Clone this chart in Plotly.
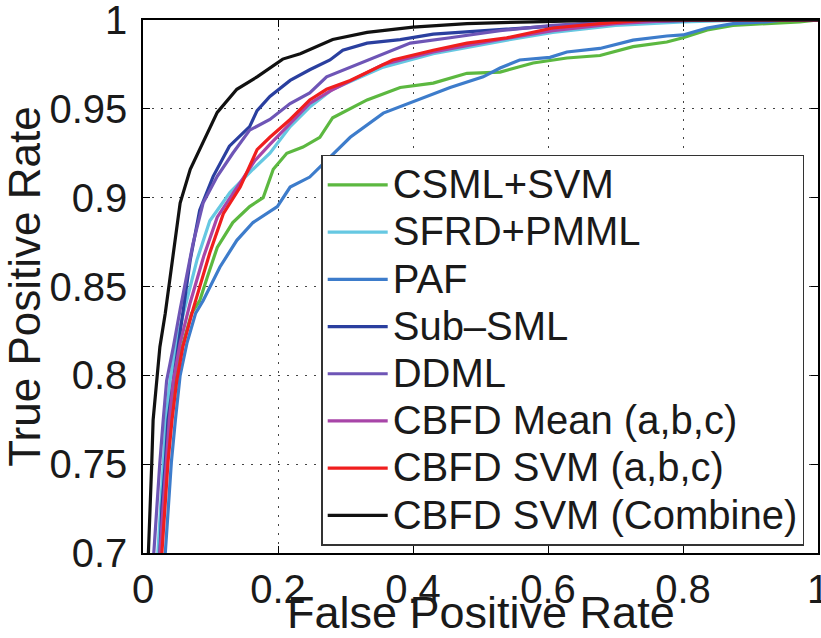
import plotly.graph_objects as go

# ---------------- data ----------------
names = ["CSML+SVM", "SFRD+PMML", "PAF", "Sub\u2013SML", "DDML",
         "CBFD Mean (a,b,c)", "CBFD SVM (a,b,c)", "CBFD SVM (Combine)"]

csml_x = [0.025, 0.030, 0.033, 0.040, 0.048, 0.058, 0.072, 0.084, 0.095, 0.110, 0.133, 0.158, 0.178,
          0.193, 0.213, 0.237, 0.262, 0.281, 0.332, 0.381, 0.430, 0.480, 0.529, 0.578, 0.628, 0.677,
          0.726, 0.776, 0.800, 0.836, 0.874, 0.924, 0.973, 1.0]
csml_y = [0.700, 0.726, 0.751, 0.775, 0.797, 0.816, 0.835, 0.842, 0.855, 0.872, 0.886, 0.895, 0.900,
          0.916, 0.925, 0.9285, 0.934, 0.945, 0.955, 0.962, 0.9645, 0.970, 0.9707, 0.9758, 0.9786, 0.980,
          0.985, 0.9876, 0.990, 0.9944, 0.997, 0.998, 0.999, 1.0]

sfrd_x = [0.022, 0.026, 0.030, 0.034, 0.040, 0.050, 0.070, 0.080, 0.099, 0.129, 0.163, 0.188, 0.218,
          0.247, 0.281, 0.356, 0.430, 0.529, 0.607, 0.700, 0.800, 0.900, 1.0]
sfrd_y = [0.700, 0.726, 0.751, 0.775, 0.797, 0.820, 0.850, 0.865, 0.887, 0.903, 0.916, 0.925, 0.940,
          0.951, 0.961, 0.9735, 0.981, 0.988, 0.993, 0.997, 0.999, 1.0, 1.0]

paf_x = [0.033, 0.037, 0.042, 0.048, 0.055, 0.065, 0.078, 0.089, 0.114, 0.139, 0.163, 0.199, 0.218,
         0.247, 0.267, 0.307, 0.356, 0.406, 0.455, 0.504, 0.529, 0.558, 0.603, 0.628, 0.677, 0.726,
         0.776, 0.800, 0.836, 0.874, 0.924, 0.950, 1.0]
paf_y = [0.700, 0.726, 0.751, 0.775, 0.800, 0.818, 0.835, 0.842, 0.861, 0.876, 0.886, 0.895, 0.906,
         0.9116, 0.919, 0.934, 0.9476, 0.955, 0.962, 0.968, 0.973, 0.9775, 0.979, 0.982, 0.984, 0.9887,
         0.991, 0.9916, 0.9955, 0.998, 0.999, 1.0, 1.0]

subsml_x = [0.025, 0.028, 0.033, 0.037, 0.045, 0.052, 0.059, 0.070, 0.084, 0.104, 0.128, 0.158, 0.169,
            0.188, 0.218, 0.247, 0.277, 0.296, 0.332, 0.381, 0.430, 0.504, 0.578, 0.700, 0.850, 1.0]
subsml_y = [0.700, 0.726, 0.751, 0.775, 0.797, 0.816, 0.837, 0.865, 0.893, 0.912, 0.929, 0.940, 0.949,
            0.957, 0.966, 0.972, 0.9775, 0.983, 0.987, 0.989, 0.992, 0.994, 0.996, 0.999, 1.0, 1.0]

ddml_x = [0.016, 0.020, 0.025, 0.030, 0.035, 0.045, 0.055, 0.074, 0.089, 0.110, 0.133, 0.158, 0.188,
          0.218, 0.247, 0.272, 0.307, 0.356, 0.396, 0.455, 0.529, 0.607, 0.700, 0.850, 1.0]
ddml_y = [0.700, 0.726, 0.751, 0.775, 0.797, 0.816, 0.837, 0.874, 0.897, 0.912, 0.925, 0.938, 0.944,
          0.953, 0.959, 0.968, 0.9735, 0.981, 0.987, 0.990, 0.994, 0.997, 0.999, 1.0, 1.0]

mean_x = [0.025, 0.030, 0.034, 0.039, 0.045, 0.055, 0.070, 0.090, 0.110, 0.138, 0.166, 0.188, 0.218,
          0.247, 0.277, 0.356, 0.430, 0.529, 0.607, 0.700, 0.800, 1.0]
mean_y = [0.700, 0.726, 0.751, 0.775, 0.797, 0.818, 0.841, 0.867, 0.889, 0.905, 0.921, 0.930, 0.942,
          0.953, 0.960, 0.975, 0.982, 0.989, 0.994, 0.998, 1.0, 1.0]

svm_x = [0.028, 0.033, 0.037, 0.043, 0.050, 0.059, 0.074, 0.099, 0.119, 0.144, 0.169, 0.188, 0.218,
         0.247, 0.272, 0.307, 0.370, 0.430, 0.480, 0.539, 0.607, 0.677, 0.750, 1.0]
svm_y = [0.700, 0.726, 0.751, 0.775, 0.797, 0.816, 0.837, 0.869, 0.891, 0.906, 0.927, 0.934, 0.944,
         0.955, 0.961, 0.966, 0.9775, 0.983, 0.987, 0.990, 0.9955, 0.998, 1.0, 1.0]

comb_x = [0.008, 0.010, 0.013, 0.015, 0.020, 0.025, 0.033, 0.040, 0.055, 0.070, 0.089, 0.110, 0.139,
          0.169, 0.207, 0.233, 0.281, 0.332, 0.400, 0.480, 0.578, 0.700, 1.0]
comb_y = [0.700, 0.726, 0.751, 0.775, 0.797, 0.816, 0.835, 0.854, 0.897, 0.916, 0.931, 0.948, 0.961,
          0.968, 0.978, 0.981, 0.989, 0.993, 0.996, 0.998, 0.999, 1.0, 1.0]

x_ticks = [0, 0.2, 0.4, 0.6, 0.8, 1]
x_tick_labels = ["0", "0.2", "0.4", "0.6", "0.8", "1"]
y_ticks = [0.7, 0.75, 0.8, 0.85, 0.9, 0.95, 1]
y_tick_labels = ["0.7", "0.75", "0.8", "0.85", "0.9", "0.95", "1"]
x_title = "False Positive Rate"
y_title = "True Positive Rate"

# ---------------- styling ----------------
colors = ["#5cb840", "#66c8e2", "#3d7ccb", "#2a3f9f", "#6e55b6", "#a845a8", "#f01e1e", "#111111"]
series = [(csml_x, csml_y), (sfrd_x, sfrd_y), (paf_x, paf_y), (subsml_x, subsml_y),
          (ddml_x, ddml_y), (mean_x, mean_y), (svm_x, svm_y), (comb_x, comb_y)]

FONT = "Liberation Sans, Arial, Helvetica, sans-serif"
TXT = "#1a1a1a"

fig = go.Figure()
for name, (xs, ys), c in zip(names, series, colors):
    fig.add_trace(go.Scatter(
        x=xs, y=ys, mode="lines", name="<span style='font-size:40px'>" + name + "</span>",
        line=dict(color=c, width=3.2), hoverinfo="skip"))

axis_common = dict(
    showline=True, linecolor="black", linewidth=1.5, mirror="ticks",
    ticks="inside", ticklen=7, tickwidth=1.2, tickcolor="black",
    showgrid=True, gridcolor="#444444", gridwidth=1, griddash="2px,7px",
    zeroline=False, tickfont=dict(size=40, color=TXT, family=FONT),
    ticklabeloverflow="allow", automargin=False,
)

fig.update_layout(
    width=821, height=638,
    margin=dict(l=143, r=3, t=20, b=85, autoexpand=False),
    paper_bgcolor="white", plot_bgcolor="white",
    font=dict(family=FONT, color=TXT),
    showlegend=True,
    legend=dict(
        x=0.264, y=0.747, xanchor="left", yanchor="top",
        bgcolor="white", bordercolor="#333333", borderwidth=1.5,
        font=dict(size=34, color=TXT, family=FONT),
        traceorder="normal", itemwidth=60,
    ),
    xaxis=dict(axis_common, range=[0, 1], tickvals=x_ticks, ticktext=x_tick_labels,
               ticklabelstandoff=0),
    yaxis=dict(axis_common, range=[0.7, 1], tickvals=y_ticks, ticktext=y_tick_labels,
               title=dict(text=y_title, font=dict(size=44, color=TXT, family=FONT),
                          standoff=4),
               ticklabelstandoff=6),
    annotations=[dict(
        text=x_title, xref="paper", yref="paper", x=0.5, y=0,
        xanchor="center", yanchor="middle", yshift=-59, showarrow=False,
        font=dict(size=45, color=TXT, family=FONT))],
)

fig.write_html("out.html")
